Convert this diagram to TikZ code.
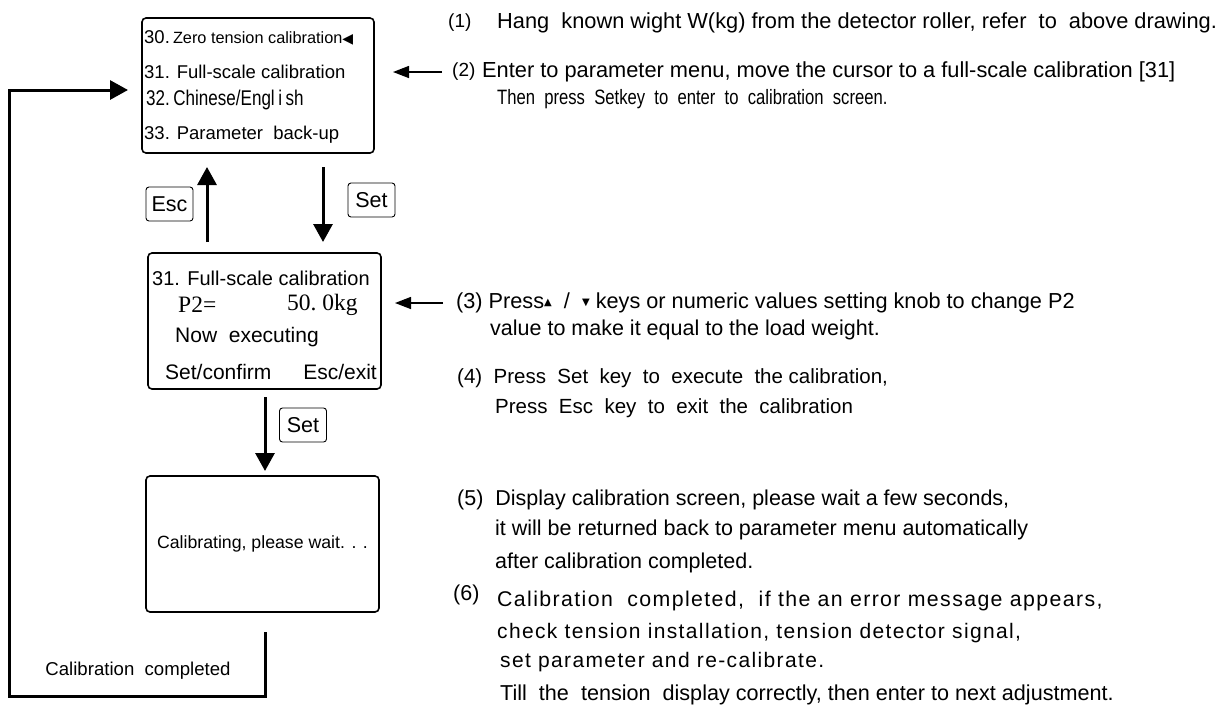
\documentclass[tikz,border=0pt]{standalone}
\usepackage{fontspec}
\setmainfont{Liberation Sans}
\newfontfamily\narrow[FakeStretch=0.8]{Liberation Sans}
\newfontfamily\spaced[LetterSpace=6.5]{Liberation Sans}
\newfontfamily\songti{Liberation Serif}
\newfontfamily\symfont{DejaVu Sans}
\usetikzlibrary{arrows.meta}
\newcommand{\fs}[1]{\fontsize{#1}{#1}\selectfont}
\newcommand{\tri}[1]{\raisebox{3pt}{\symfont\fs{10}#1}}
\tikzset{
  scr/.style={draw, line width=1.6pt, rounded corners=4pt, anchor=north west, inner sep=0pt, outer sep=0pt},
  keybox/.style={draw, line width=0.9pt, rounded corners=3pt, minimum width=47pt, minimum height=34pt, inner sep=0pt, font=\fs{21.5}},
  barrow/.style={-{Triangle[length=18pt,width=19pt]}, line width=3pt},
  sarrow/.style={-{Triangle[length=16pt,width=12pt]}, line width=1.4pt},
  btxt/.style={anchor=west, inner sep=0pt, font=\fs{18.5}},
  ctxt/.style={anchor=west, inner sep=0pt, font=\fs{20.5}},
  rtxt/.style={anchor=west, inner sep=0pt, font=\fs{21.5}},
  stxt/.style={anchor=west, inner sep=0pt, font=\spaced\fs{21.3}},
}
\begin{document}
\begin{tikzpicture}[x=1pt,y=-1pt]
\useasboundingbox (0,0) rectangle (1226,721);
% screens
\node[scr, minimum width=232pt, minimum height=135pt] (s1) at (142,18) {};
\node[scr, minimum width=233pt, minimum height=136pt] (s2) at (148,253) {};
\node[scr, minimum width=233pt, minimum height=136pt] (s3) at (146,476) {};
% screen 1 text
\node[btxt] (l30) at (144,38) {\fs{18.5}30.\,{\fs{16.3}Zero tension calibration}{\symfont\fs{14}◀}};
\node[btxt] (l31) at (144,72) {31. Full-scale calibration};
\node[btxt, font=\narrow\fs{21.3}] (l32) at (146,100) {32.\,Chinese/Engl\,i\,sh};
\node[btxt] (l33) at (144,135) {33. Parameter~ back-up};
% screen 2 text
\node[ctxt, font=\fs{20}] (m1) at (152,278) {31. Full-scale calibration};
\node[ctxt, font=\songti\fs{23.5}] (m2) at (178,305) {P2=};
\node[ctxt, font=\songti\fs{23.5}] (m3) at (287,305) {50.\ 0kg};
\node[ctxt, font=\fs{21}] (m4) at (175,337) {Now~ executing};
\node[ctxt, font=\fs{21}] (m5) at (165,372) {Set/confirm};
\node[ctxt, font=\fs{21}, anchor=east] (m6) at (377,372) {Esc/exit};
% screen 3 text
\node[font=\fs{17.7}, inner sep=0pt] (cal) at (s3.center) {Calibrating, please wait. . .};
% keys
\node[keybox] (kesc) at (169.5,204) {Esc};
\node[keybox] (kset1) at (371.5,200) {Set};
\node[keybox] (kset2) at (303,425) {Set};
% arrows between screens
\coordinate (xe) at (207,0);
\coordinate (xs) at (323,0);
\coordinate (xm) at (265,0);
\draw[barrow, shorten <=11pt, shorten >=14pt] (s2.north -| xe) -- (s1.south -| xe);
\draw[barrow, shorten <=14pt, shorten >=11pt] (s1.south -| xs) -- (s2.north -| xs);
\draw[barrow, shorten <=8pt, shorten >=5pt] (s2.south -| xm) -- (s3.north -| xm);
% loop back
\coordinate (lb) at (265,696);
\coordinate (lx) at (9,90);
\draw[barrow, line join=miter, shorten <=20pt, shorten >=14pt] (s3.south -| xm) -- (lb) -| (lx) -- (s1.west |- lx);
\node[font=\fs{18.6}, inner sep=0pt] (done) at (138,671) {Calibration~ completed};
% small arrows
\coordinate (a2) at (442,72);
\coordinate (a3) at (443,303);
\draw[sarrow, shorten >=19pt] (a2) -- (s1.east |- a2);
\draw[sarrow, shorten >=14pt] (a3) -- (s2.east |- a3);
% right texts
\node[rtxt, font=\fs{19}] (t1a) at (448,23) {(1)};
\node[rtxt, font=\fs{21.8}] (t1b) at (497,23) {Hang~ known wight W(kg) from the detector roller, refer~ to~ above drawing.};
\node[rtxt, font=\fs{19}] (t2a) at (452,72) {(2)};
\node[rtxt, font=\fs{21.8}] (t2b) at (482,72) {Enter to parameter menu, move the cursor to a full-scale calibration [31]};
\node[rtxt, font=\narrow\fs{20.8}] (t2c) at (497,99) {Then~ press~ Setkey~ to~ enter~ to~ calibration~ screen.};
\node[rtxt, font=\fs{21.7}] (t3a) at (456,303) {(3) Press\tri{▲}~ /~ \tri{▼} keys or numeric values setting knob to change P2};
\node[rtxt] (t3b) at (490,330) {value to make it equal to the load weight.};
\node[rtxt, font=\fs{20.5}] (t4a) at (457,378) {(4)~ Press~ Set~ key~ to~ execute~ the calibration,};
\node[rtxt, font=\fs{20.5}] (t4b) at (495,408) {Press~ Esc~ key~ to~ exit~ the~ calibration};
\node[rtxt] (t5a) at (457,500) {(5)~ Display calibration screen, please wait a few seconds,};
\node[rtxt] (t5b) at (495,530) {it will be returned back to parameter menu automatically};
\node[rtxt] (t5c) at (495,563) {after calibration completed.};
\node[rtxt] (t6a) at (453,595) {(6)};
\node[stxt] (t6b) at (497,601) {Calibration~ completed,~ if the an error message appears,};
\node[stxt, font=\spaced\fs{21}] (t6c) at (497,633) {check tension installation, tension detector signal,};
\node[stxt, font=\spaced\fs{21}] (t6d) at (500,662) {set parameter and re-calibrate.};
\node[rtxt, font=\fs{21.6}] (t6e) at (500,695) {Till~ the~ tension~ display correctly, then enter to next adjustment.};
\end{tikzpicture}
\end{document}
